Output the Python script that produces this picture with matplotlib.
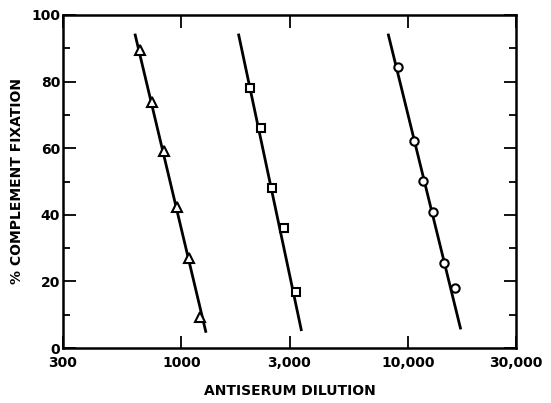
import matplotlib
matplotlib.use("Agg")
import matplotlib.pyplot as plt
import numpy as np

# triangles
tri_x = [656, 739, 840, 959, 1076, 1208]
tri_y = [89.5, 74, 59.3, 42.2, 26.9, 9.4]
tri_line_x = [625, 1280]
tri_line_y = [94, 5]

# squares
sq_x = [2009, 2245, 2518, 2836, 3204]
sq_y = [78, 66.2, 48, 35.9, 16.7]
sq_line_x = [1790, 3380]
sq_line_y = [94, 5.5]

# circles
circ_x = [9011, 10670, 11690, 12950, 14470, 16130]
circ_y = [84.3, 62.3, 50.3, 40.9, 25.6, 18.1]
circ_line_x = [8200, 17050]
circ_line_y = [94, 6]

xticks = [300, 1000, 3000, 10000, 30000]
xticklabels = ["300", "1000", "3,000", "10,000", "30,000"]
yticks = [0, 20, 40, 60, 80, 100]

plt.rcParams['font.family'] = ['DejaVu Sans']
plt.rcParams['font.weight'] = 'bold'

fig = plt.figure(figsize=(5.51, 4.03), dpi=100)
ax = fig.add_axes([63/551, 1-348/403, 453/551, 333/403])

for lx, ly in [(tri_line_x, tri_line_y), (sq_line_x, sq_line_y), (circ_line_x, circ_line_y)]:
    ax.plot(lx, ly, color='black', lw=2, zorder=2)

mk = dict(linestyle='none', markerfacecolor='white', markeredgecolor='black',
          markeredgewidth=1.5, zorder=3)
ax.plot(tri_x, tri_y, marker='^', markersize=6.5, **mk)
ax.plot(sq_x, sq_y, marker='s', markersize=5.5, **mk)
ax.plot(circ_x, circ_y, marker='o', markersize=6, **mk)

ax.set_xscale('log')
ax.set_xlim(300, 30000)
ax.set_ylim(0, 100)
ax.set_xticks(xticks)
ax.set_xticklabels(xticklabels)
ax.xaxis.set_minor_locator(matplotlib.ticker.NullLocator())
ax.set_yticks(yticks)
ax.set_yticks(np.arange(10, 100, 20), minor=True)

ax.tick_params(axis='both', which='both', direction='in', top=True, right=True,
               width=1.3, labelsize=10)
ax.tick_params(which='major', length=9)
ax.tick_params(which='minor', length=5)
ax.tick_params(axis='x', pad=6)
ax.tick_params(axis='y', pad=2)
for s in ax.spines.values():
    s.set_linewidth(1.8)

ax.set_xlabel('ANTISERUM DILUTION', fontsize=10, fontweight='bold', labelpad=10)
ax.set_ylabel('% COMPLEMENT FIXATION', fontsize=10, fontweight='bold', labelpad=5)

fig.savefig('out.png', dpi=100)
